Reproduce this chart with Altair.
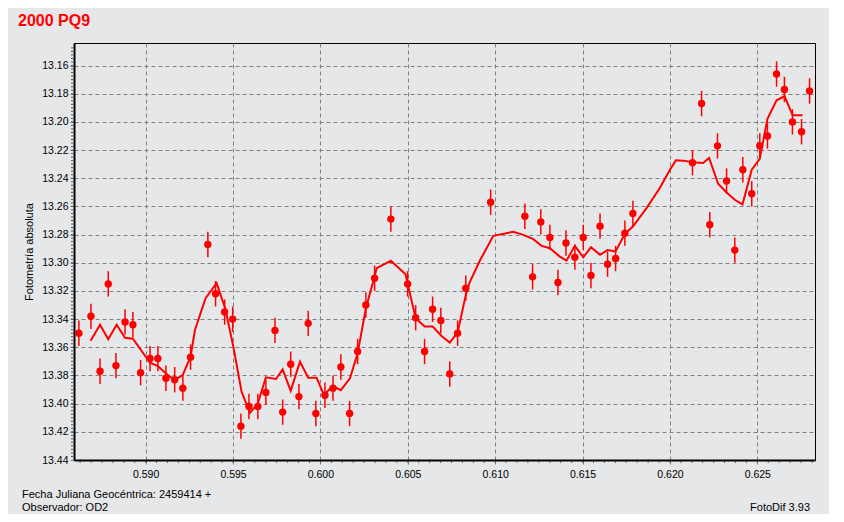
import altair as alt
import pandas as pd
import numpy as np

TITLE = "2000 PQ9"
Y_TITLE = "Fotometría absoluta"
FOOT_LEFT_1 = "Fecha Juliana Geocéntrica: 2459414 +"
FOOT_LEFT_2 = "Observador: OD2"
FOOT_RIGHT = "FotoDif 3.93"

# Observations (JD fraction, magnitude)
obs_x = [0.58618, 0.58687, 0.58739, 0.58786, 0.58830, 0.58882, 0.58927, 0.58971, 0.59025, 0.59070,
         0.59116, 0.59166, 0.59213, 0.59257, 0.59356, 0.59400, 0.59452, 0.59498, 0.59545, 0.59591,
         0.59642, 0.59688, 0.59740,
         0.59784, 0.59830, 0.59877, 0.59930, 0.59974, 0.60026, 0.60072, 0.60117, 0.60167, 0.60213,
         0.60260, 0.60310, 0.60403, 0.60499, 0.60545, 0.60596, 0.60642, 0.60689, 0.60740, 0.60785,
         0.60832,
         0.60974, 0.61170, 0.61214, 0.61261, 0.61313, 0.61359, 0.61405, 0.61456, 0.61504, 0.61548,
         0.61600, 0.61643, 0.61689, 0.61742, 0.61788,
         0.62129, 0.62181, 0.62228, 0.62272, 0.62324, 0.62371, 0.62417, 0.62468, 0.62514, 0.62558,
         0.62610, 0.62655, 0.62701, 0.62753, 0.62799]
obs_y = [13.350, 13.338, 13.377, 13.315, 13.373, 13.342, 13.344, 13.378, 13.368, 13.368,
         13.382, 13.383, 13.389, 13.367, 13.287, 13.322, 13.335, 13.340, 13.416, 13.402,
         13.402, 13.392, 13.348,
         13.406, 13.372, 13.395, 13.343, 13.407, 13.394, 13.389, 13.374, 13.407, 13.363,
         13.330, 13.311, 13.269, 13.315, 13.339, 13.363, 13.333, 13.341, 13.379, 13.350,
         13.318,
         13.257, 13.267, 13.310, 13.271, 13.282, 13.314, 13.286, 13.296, 13.282, 13.309,
         13.274, 13.301, 13.297, 13.279, 13.265,
         13.229, 13.187, 13.273, 13.217, 13.242, 13.291, 13.234, 13.251, 13.217, 13.210,
         13.166, 13.177, 13.200, 13.207, 13.178]
ERR = 0.009

# Model curve
line_x = [0.58685, 0.58739, 0.58786, 0.58834, 0.58882, 0.58927, 0.59025, 0.59070, 0.59120, 0.59166,
          0.59212, 0.59257, 0.59282, 0.59343, 0.59406, 0.59455, 0.59501, 0.59549, 0.59597, 0.59642,
          0.59688, 0.59746, 0.59784, 0.59830, 0.59883, 0.59930, 0.59978, 0.60020, 0.60070, 0.60117,
          0.60169, 0.60213, 0.60260, 0.60310, 0.60322, 0.60403, 0.60487, 0.60499, 0.60545, 0.60596,
          0.60642, 0.60693, 0.60740, 0.60785, 0.60832, 0.60852, 0.60912, 0.60989, 0.61103, 0.61161,
          0.61218, 0.61265, 0.61313, 0.61370, 0.61408, 0.61456, 0.61504, 0.61548, 0.61600, 0.61643,
          0.61689, 0.61742, 0.61788, 0.61866, 0.61942, 0.62000, 0.62034, 0.62076, 0.62129, 0.62190,
          0.62224, 0.62276, 0.62324, 0.62371, 0.62415, 0.62468, 0.62514, 0.62525, 0.62558, 0.62610,
          0.62656, 0.62702, 0.62759]
line_y = [13.3553, 13.3440, 13.3543, 13.3440, 13.3532, 13.3539, 13.3710, 13.3733, 13.3790, 13.3833,
          13.3797, 13.3667, 13.3477, 13.3252, 13.3145, 13.3323, 13.3591, 13.3916, 13.4065, 13.3998,
          13.3813, 13.3825, 13.3757, 13.3909, 13.3702, 13.3816, 13.3816, 13.3939, 13.3875, 13.3904,
          13.3820, 13.3643, 13.3323, 13.3098, 13.3038, 13.2986, 13.3081, 13.3148, 13.3394, 13.3453,
          13.3453, 13.3520, 13.3567, 13.3496, 13.3228, 13.3145, 13.2986, 13.2809, 13.2780, 13.2802,
          13.2832, 13.2880, 13.2897, 13.2956, 13.2985, 13.2880, 13.2961, 13.2890, 13.2944, 13.2909,
          13.2920, 13.2795, 13.2743, 13.2612, 13.2470, 13.2339, 13.2273, 13.2275, 13.2287, 13.2292,
          13.2256, 13.2439, 13.2501, 13.2553, 13.2586, 13.2339, 13.2263, 13.2190, 13.1979, 13.1847,
          13.1818, 13.1953, 13.1953]

x_ticks = [0.590, 0.595, 0.600, 0.605, 0.610, 0.615, 0.620, 0.625]
y_ticks = [13.16, 13.18, 13.20, 13.22, 13.24, 13.26, 13.28, 13.30, 13.32, 13.34, 13.36, 13.38, 13.40, 13.42, 13.44]
x_domain = [0.5859, 0.6283]
y_domain = [13.144, 13.44]

W, H = 741, 417
BG = "#E6E7E9"
RED = "#FF0000"
FONT = "Liberation Sans"

obs = pd.DataFrame({"t": obs_x, "m": obs_y})
obs["lo"] = obs["m"] - ERR
obs["hi"] = obs["m"] + ERR
model = pd.DataFrame({"t": line_x, "m": line_y, "o": list(range(len(line_x)))})

xs = alt.Scale(domain=x_domain, nice=False, zero=False)
ys = alt.Scale(domain=y_domain, reverse=True, nice=False, zero=False)

xaxis = alt.Axis(values=x_ticks, format=".3f", title=None, grid=True, gridColor="#808080",
                 gridDash=[4, 3], gridWidth=1, domainColor="black", domainWidth=2,
                 tickColor="#808080", tickSize=4, tickDash=[4, 3], labelPadding=5,
                 labelFont=FONT, labelFontSize=10.5, labelColor="black", labelFlush=False)
yaxis = alt.Axis(values=y_ticks, format=".2f", title=Y_TITLE, grid=True, gridColor="#808080",
                 gridDash=[4, 3], gridWidth=1, domainColor="black", domainWidth=2,
                 tickColor="#808080", tickSize=5, tickDash=[4, 3], labelPadding=1,
                 labelFont=FONT, labelFontSize=10.5, labelColor="black", labelFlush=False,
                 titleFont=FONT, titleFontSize=11, titleFontWeight="normal", titleColor="black",
                 titleX=-45, titleBaseline="middle")


def X(field):
    return alt.X(field, type="quantitative", scale=xs, axis=xaxis, title=None)


def Y(field):
    return alt.Y(field, type="quantitative", scale=ys, axis=yaxis, title=Y_TITLE)


errbars = alt.Chart(obs).mark_rule(color=RED, strokeWidth=1.5, clip=True).encode(
    x=X("t"), y=Y("lo"), y2="hi:Q",
)
points = alt.Chart(obs).mark_point(filled=True, shape="circle", size=55, color=RED, opacity=1, clip=True).encode(
    x=X("t"), y=Y("m"),
)
curve = alt.Chart(model).mark_line(color=RED, strokeWidth=2, clip=True).encode(
    x=X("t"), y=Y("m"), order="o:Q",
)

# minor ticks
ymin = pd.DataFrame({"v": np.round(np.arange(13.1475, 13.44, 0.0025), 4)})
xmin = pd.DataFrame({"v": np.round(np.arange(0.586250, 0.6283, 0.000625), 6)})
yminor = alt.Chart(ymin).mark_rule(color="#555555", strokeWidth=1).encode(
    y=Y("v"), x=alt.value(-3), x2=alt.value(-1))
xminor = alt.Chart(xmin).mark_rule(color="#555555", strokeWidth=1).encode(
    x=X("v"), y=alt.value(H + 1), y2=alt.value(H + 3))

one = pd.DataFrame({"a": [0]})
title = alt.Chart(one).mark_text(text=TITLE, color=RED, font=FONT, fontSize=16, fontWeight="bold",
                                 align="left", baseline="alphabetic").encode(
    x=alt.value(-56), y=alt.value(-17.5))
foot1 = alt.Chart(one).mark_text(text=FOOT_LEFT_1, color="black", font=FONT, fontSize=11,
                                 align="left", baseline="alphabetic").encode(
    x=alt.value(-52), y=alt.value(455))
foot2 = alt.Chart(one).mark_text(text=FOOT_LEFT_2, color="black", font=FONT, fontSize=11,
                                 align="left", baseline="alphabetic").encode(
    x=alt.value(-52), y=alt.value(468))
foot3 = alt.Chart(one).mark_text(text=FOOT_RIGHT, color="black", font=FONT, fontSize=11,
                                 align="right", baseline="alphabetic").encode(
    x=alt.value(736), y=alt.value(468))

chart = alt.layer(errbars, curve, points, yminor, xminor, title, foot1, foot2, foot3).properties(
    width=W, height=H,
    autosize=alt.AutoSizeParams(type="none"),
    padding={"left": 66, "top": 35, "right": 14, "bottom": 54},
).configure(background=BG).configure_view(stroke="black", strokeWidth=1, fill=BG)

chart.save("out.html", embed_options={"renderer": "svg", "actions": False})
